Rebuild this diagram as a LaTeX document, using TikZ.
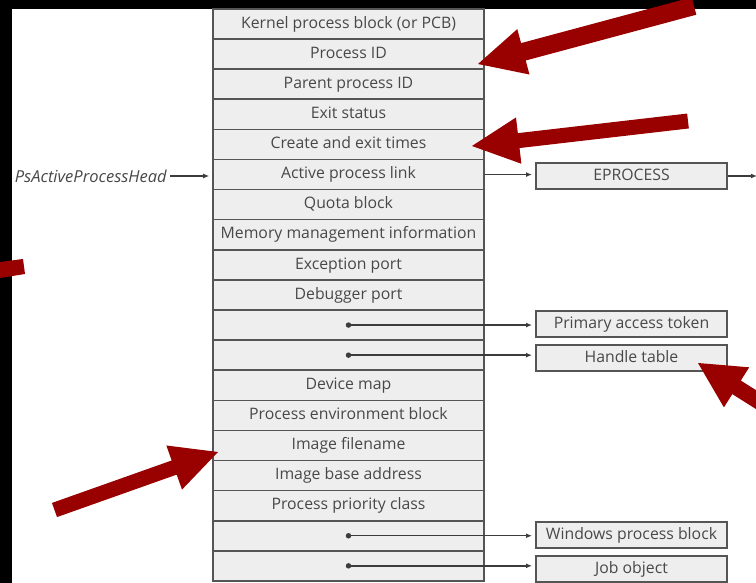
\documentclass[tikz,border=0pt]{standalone}
\usepackage{fontspec}
\setmainfont{Open Sans}
\usetikzlibrary{calc,arrows.meta}
\definecolor{cellfill}{HTML}{EEEEEE}
\definecolor{cellline}{HTML}{555555}
\definecolor{txt}{HTML}{484848}
\definecolor{redarr}{HTML}{990000}
\newcommand\blockarrow[5]{%
  \coordinate (ta) at (#1);
  \coordinate (tp) at (#2);
  \coordinate (tb) at ($(tp)!#5!(ta)$);
  \fill[redarr] ($(ta)!#3!90:(tp)$) -- ($(tb)!#3!90:(tp)$) -- ($(tb)!#4!90:(tp)$) -- (tp)
    -- ($(tb)!#4!-90:(tp)$) -- ($(tb)!#3!-90:(tp)$) -- ($(ta)!#3!-90:(tp)$) -- cycle;
}
\begin{document}
\begin{tikzpicture}[x=1pt,y=-1pt,
  cell/.style={draw=cellline, fill=cellfill, line width=1.6pt, minimum width=271pt,
    minimum height=30.1pt, inner sep=0pt, text=txt, text height=11.5pt, text depth=3pt,
    font=\fontsize{15.8}{18}\selectfont},
  rbox/.style={draw=cellline, fill=cellfill, line width=2pt, minimum width=191pt,
    minimum height=26pt, inner sep=0pt, text=txt, text height=11.5pt, text depth=3pt,
    font=\fontsize{15.8}{18}\selectfont},
  dotn/.style={circle, fill=cellline!70!black, inner sep=0pt, minimum size=5.5pt},
  conn/.style={draw=cellline!70!black, line width=1.4pt, -{Latex[length=6pt,width=5pt]}, shorten >=3pt}]
\useasboundingbox (0,0) rectangle (756,583);
\fill[black] (0,0) rectangle (756,583);
\fill[white] (12,9) rectangle (756,583);
\foreach \t [count=\i] in {{Kernel process block (or PCB)},{Process ID},{Parent process ID},{Exit status},{Create and exit times},{Active process link},{Quota block},{Memory management information},{Exception port},{Debugger port},{},{},{Device map},{Process environment block},{Image filename},{Image base address},{Process priority class},{},{}}
  \node[cell] (r\i) at (348.5, {9+30.1*(\i-0.5)}) {\t};
\node[dotn] (d11) at (r11.center) {};
\node[dotn] (d12) at (r12.center) {};
\node[dotn] (d18) at (r18.center) {};
\node[dotn] (d19) at (r19.center) {};
\node[rbox] (ep) at (631.5,176) {EPROCESS};
\node[rbox] (pat) at (631.5,324) {Primary access token};
\node[rbox] (ht) at (631.5,358) {Handle table};
\node[rbox] (wpb) at (631.5,535) {Windows process block};
\node[rbox] (job) at (631.5,569) {Job object};
\node[anchor=east, inner sep=0pt, text=txt, font=\fontsize{16.5}{18}\selectfont\itshape] (head) at (167,176) {PsActiveProcessHead};
\coordinate (eout) at (757,176);
\draw[conn] ([xshift=3pt]head.east) -- (head.east -| r6.west);
\draw[conn] (r6.east |- r6.center) -- (r6.center -| ep.west);
\draw[conn, shorten >=0pt] (ep.east) -- (eout);
\draw[conn] (d11) -- (d11 -| pat.west);
\draw[conn] (d12) -- (d12 -| ht.west);
\draw[conn] (d18) -- (d18 -| wpb.west);
\draw[conn] (d19) -- (d19 -| job.west);
\begin{scope}
\clip (0,0) rectangle (756,583);
\blockarrow{694,6}{478,64}{9pt}{23.5pt}{47pt}
\blockarrow{688,121}{472,146}{7.5pt}{23.3pt}{47pt}
\blockarrow{54.5,510}{218,452}{7.5pt}{23.4pt}{46.5pt}
\blockarrow{820,440}{698,363}{8pt}{23.7pt}{45.6pt}
\fill[redarr] (0,262) -- (23,259) -- (25,274) -- (0,278) -- cycle;
\end{scope}
\end{tikzpicture}
\end{document}
